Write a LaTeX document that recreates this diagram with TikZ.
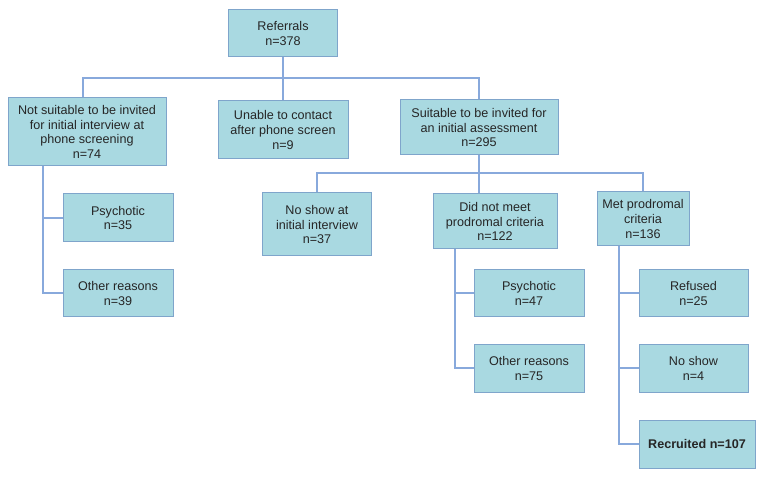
\documentclass[tikz,border=0pt]{standalone}
\usepackage{fontspec}
\setmainfont{Liberation Sans}
\definecolor{boxfill}{HTML}{A9D9E1}
\definecolor{boxline}{HTML}{7FA5CB}
\definecolor{conn}{HTML}{88A9DC}
\begin{document}
\begin{tikzpicture}[x=1pt,y=-1pt,
  box/.style={draw=boxline, line width=1pt, fill=boxfill, align=center, inner sep=2pt,
    font=\fontsize{12.6}{14.8}\selectfont, text=black!85},
  link/.style={draw=conn, line width=2pt}]
\useasboundingbox (0,0) rectangle (766,478);
% boxes
\node[box, minimum width=109, minimum height=47] (ref) at (283,33.5) {Referrals\\n=378};
\node[box, minimum width=158, minimum height=68] (notsuit) at (87,132) {Not suitable to be invited\\for initial interview at\\phone screening\\n=74};
\node[box, minimum width=130, minimum height=58] (unable) at (283,130) {Unable to contact\\after phone screen\\n=9};
\node[box, minimum width=158, minimum height=55] (suit) at (479,127.5) {Suitable to be invited for\\an initial assessment\\n=295};
\node[box, minimum width=110, minimum height=48] (psy1) at (118,218) {Psychotic\\n=35};
\node[box, minimum width=110, minimum height=47] (oth1) at (118,293.5) {Other reasons\\n=39};
\node[box, minimum width=109, minimum height=63] (nos1) at (317,224.5) {No show at\\initial interview\\n=37};
\node[box, minimum width=124, minimum height=55] (dnm) at (495,221.5) {Did not meet\\prodromal criteria\\n=122};
\node[box, minimum width=92, minimum height=54] (met) at (643,219) {Met prodromal\\criteria\\n=136};
\node[box, minimum width=110, minimum height=47] (psy2) at (529,293.5) {Psychotic\\n=47};
\node[box, minimum width=110, minimum height=47] (oth2) at (529,368.5) {Other reasons\\n=75};
\node[box, minimum width=109, minimum height=47] (refu) at (693.5,293.5) {Refused\\n=25};
\node[box, minimum width=109, minimum height=47] (nos2) at (693.5,368.5) {No show\\n=4};
\node[box, minimum width=116, minimum height=48] (rec) at (697,444) {\textbf{Recruited n=107}};
% buses
\coordinate (bus1) at (0,78);
\coordinate (bus2) at (0,173);
\coordinate (l1) at ([xshift=35pt]notsuit.south west);
\coordinate (l2) at ([xshift=22pt]dnm.south west);
\coordinate (l3) at ([xshift=22pt]met.south west);
% connectors
\draw[link] (ref.south) -- (ref.south |- bus1);
\draw[link] ([xshift=-4pt]notsuit.north) |- (suit.north |- bus1) -- (suit.north);
\draw[link] (ref.south |- bus1) -- (unable.north);
\draw[link] (suit.south) -- (suit.south |- dnm.north);
\draw[link] (nos1.north) |- (met.north |- bus2) -- (met.north);
\draw[link] (l1) |- (oth1.west);
\draw[link] (l1 |- psy1.west) -- (psy1.west);
\draw[link] (l2) |- (oth2.west);
\draw[link] (l2 |- psy2.west) -- (psy2.west);
\draw[link] (l3) |- (rec.west);
\draw[link] (l3 |- refu.west) -- (refu.west);
\draw[link] (l3 |- nos2.west) -- (nos2.west);
\end{tikzpicture}
\end{document}
